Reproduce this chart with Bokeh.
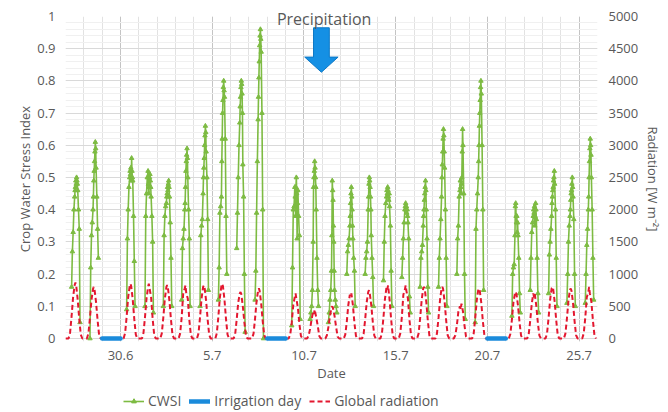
import math
from bokeh.plotting import figure
from bokeh.layouts import column
from bokeh.models import (Range1d, LinearAxis, FixedTicker, Legend, LegendItem)
from bokeh.embed import file_html
from bokeh.resources import INLINE

# ---------------- data ----------------
dates = ["27.6", "28.6", "29.6", "30.6", "1.7", "2.7", "3.7", "4.7", "5.7", "6.7",
         "7.7", "8.7", "9.7", "10.7", "11.7", "12.7", "13.7", "14.7", "15.7", "16.7",
         "17.7", "18.7", "19.7", "20.7", "21.7", "22.7", "23.7", "24.7", "25.7"]
ref_date = "30.6"            # day 0 of the numeric date axis
tick_dates = ["30.6", "5.7", "10.7", "15.7", "20.7", "25.7"]
irrigation_dates = ["29.6", "8.7", "20.7"]
precipitation_day = 10.95    # days after 30.6

cwsi_hours = [8, 9, 10, 11, 12, 12.5, 13, 13.5, 14, 14.5, 15, 15.5, 16, 17, 18, 19]
cwsi_2706 = [0.16, 0.27, 0.33, 0.40, 0.44, 0.46, 0.47, 0.49, 0.48, 0.50, 0.49, 0.48, 0.46, 0.40, 0.34, 0.05]
cwsi_2806 = [0.00, 0.22, 0.32, 0.36, 0.40, 0.44, 0.49, 0.52, 0.55, 0.58, 0.61, 0.59, 0.53, 0.44, 0.34, 0.25]
cwsi_3006 = [0.09, 0.31, 0.40, 0.47, 0.50, 0.52, 0.51, 0.53, 0.49, 0.56, 0.52, 0.50, 0.49, 0.38, 0.24, 0.10]
cwsi_0107 = [0.10, 0.38, 0.45, 0.50, 0.52, 0.48, 0.45, 0.47, 0.50, 0.51, 0.49, 0.47, 0.44, 0.38, 0.30, 0.08]
cwsi_0207 = [0.10, 0.32, 0.38, 0.41, 0.42, 0.44, 0.45, 0.47, 0.46, 0.48, 0.49, 0.47, 0.44, 0.36, 0.25, 0.10]
cwsi_0307 = [0.12, 0.28, 0.31, 0.34, 0.40, 0.42, 0.47, 0.52, 0.55, 0.57, 0.59, 0.56, 0.50, 0.40, 0.31, 0.10]
cwsi_0407 = [0.10, 0.32, 0.35, 0.37, 0.45, 0.50, 0.53, 0.56, 0.60, 0.63, 0.66, 0.64, 0.58, 0.50, 0.37, 0.15]
cwsi_0507 = [0.12, 0.22, 0.39, 0.41, 0.44, 0.55, 0.62, 0.70, 0.74, 0.78, 0.80, 0.77, 0.75, 0.62, 0.38, 0.20]
cwsi_0607 = [0.28, 0.39, 0.50, 0.60, 0.67, 0.72, 0.75, 0.78, 0.80, 0.79, 0.76, 0.70, 0.54, 0.44, 0.20, 0.02]
cwsi_0707 = [0.12, 0.21, 0.39, 0.55, 0.68, 0.75, 0.81, 0.86, 0.91, 0.94, 0.96, 0.93, 0.89, 0.70, 0.40, 0.00]
cwsi_0907 = [0.04, 0.22, 0.40, 0.41, 0.47, 0.44, 0.38, 0.47, 0.50, 0.45, 0.31, 0.42, 0.46, 0.38, 0.32, 0.06]
cwsi_1007 = [0.06, 0.08, 0.10, 0.15, 0.30, 0.47, 0.50, 0.52, 0.55, 0.53, 0.50, 0.47, 0.40, 0.25, 0.15, 0.10]
cwsi_1107 = [0.05, 0.08, 0.12, 0.15, 0.21, 0.32, 0.49, 0.46, 0.43, 0.35, 0.30, 0.21, 0.15, 0.12, 0.10, 0.08]
cwsi_1207 = [0.20, 0.27, 0.29, 0.31, 0.35, 0.38, 0.42, 0.45, 0.47, 0.44, 0.40, 0.35, 0.31, 0.25, 0.21, 0.10]
cwsi_1307 = [0.20, 0.25, 0.27, 0.30, 0.40, 0.44, 0.48, 0.50, 0.49, 0.47, 0.44, 0.40, 0.32, 0.25, 0.19, 0.10]
cwsi_1407 = [0.18, 0.30, 0.38, 0.42, 0.44, 0.46, 0.45, 0.47, 0.46, 0.44, 0.43, 0.45, 0.41, 0.35, 0.21, 0.10]
cwsi_1507 = [0.19, 0.25, 0.31, 0.36, 0.40, 0.41, 0.42, 0.40, 0.41, 0.39, 0.40, 0.38, 0.36, 0.31, 0.13, 0.08]
cwsi_1607 = [0.16, 0.25, 0.27, 0.29, 0.35, 0.38, 0.40, 0.43, 0.45, 0.47, 0.49, 0.46, 0.40, 0.31, 0.16, 0.08]
cwsi_1707 = [0.16, 0.25, 0.31, 0.37, 0.44, 0.50, 0.54, 0.58, 0.62, 0.65, 0.63, 0.58, 0.53, 0.40, 0.25, 0.10]
cwsi_1807 = [0.20, 0.31, 0.35, 0.44, 0.46, 0.49, 0.47, 0.45, 0.48, 0.50, 0.58, 0.65, 0.60, 0.45, 0.20, 0.06]
cwsi_1907 = [0.05, 0.34, 0.40, 0.45, 0.50, 0.55, 0.60, 0.66, 0.70, 0.74, 0.78, 0.80, 0.76, 0.60, 0.40, 0.15]
cwsi_2107 = [0.07, 0.20, 0.22, 0.23, 0.32, 0.41, 0.42, 0.38, 0.36, 0.38, 0.33, 0.36, 0.32, 0.25, 0.14, 0.08]
cwsi_2207 = [0.15, 0.25, 0.33, 0.36, 0.38, 0.40, 0.39, 0.41, 0.35, 0.38, 0.42, 0.40, 0.37, 0.25, 0.14, 0.08]
cwsi_2307 = [0.14, 0.26, 0.30, 0.34, 0.38, 0.42, 0.44, 0.46, 0.47, 0.49, 0.50, 0.52, 0.48, 0.40, 0.25, 0.10]
cwsi_2407 = [0.11, 0.20, 0.30, 0.35, 0.38, 0.40, 0.43, 0.45, 0.46, 0.48, 0.50, 0.47, 0.44, 0.37, 0.20, 0.10]
cwsi_2507 = [0.11, 0.20, 0.29, 0.34, 0.40, 0.44, 0.50, 0.55, 0.59, 0.62, 0.60, 0.57, 0.50, 0.40, 0.25, 0.12]

rad_hours = [0, 4, 6, 8, 10, 12, 13, 14, 16, 18, 20, 22]
rad_2706 = [0, 0, 90, 350, 650, 830, 870, 820, 600, 300, 60, 0]
rad_2806 = [0, 0, 80, 320, 600, 770, 800, 760, 560, 280, 50, 0]
rad_2906 = [0, 0, 0, 0, 0, 0, 0, 0, 0, 0, 0, 0]
rad_3006 = [0, 0, 85, 340, 640, 820, 850, 810, 600, 300, 60, 0]
rad_0107 = [0, 0, 85, 330, 620, 800, 850, 780, 640, 310, 60, 0]
rad_0207 = [0, 0, 80, 330, 620, 800, 830, 790, 580, 290, 55, 0]
rad_0307 = [0, 0, 80, 330, 700, 780, 825, 700, 620, 290, 55, 0]
rad_0407 = [0, 0, 80, 330, 620, 800, 825, 790, 580, 290, 55, 0]
rad_0507 = [0, 0, 85, 340, 640, 820, 850, 810, 600, 300, 60, 0]
rad_0607 = [0, 0, 70, 300, 560, 700, 720, 690, 500, 250, 50, 0]
rad_0707 = [0, 0, 75, 310, 580, 750, 780, 740, 540, 270, 50, 0]
rad_0807 = [0, 0, 0, 0, 0, 0, 0, 0, 0, 0, 0, 0]
rad_0907 = [0, 0, 60, 250, 520, 650, 700, 620, 480, 230, 40, 0]
rad_1007 = [0, 0, 40, 150, 300, 420, 380, 450, 330, 200, 40, 0]
rad_1107 = [0, 0, 50, 180, 350, 480, 500, 470, 350, 180, 30, 0]
rad_1207 = [0, 0, 60, 260, 520, 680, 650, 700, 520, 240, 40, 0]
rad_1307 = [0, 0, 70, 290, 560, 720, 750, 710, 520, 260, 45, 0]
rad_1407 = [0, 0, 80, 330, 620, 800, 760, 825, 600, 300, 55, 0]
rad_1507 = [0, 0, 80, 330, 680, 760, 825, 740, 620, 290, 55, 0]
rad_1607 = [0, 0, 80, 320, 600, 780, 800, 770, 570, 280, 50, 0]
rad_1707 = [0, 0, 80, 320, 600, 780, 800, 770, 570, 280, 50, 0]
rad_1807 = [0, 0, 50, 200, 420, 500, 450, 540, 420, 200, 30, 0]
rad_1907 = [0, 0, 75, 310, 590, 760, 775, 740, 550, 270, 50, 0]
rad_2007 = [0, 0, 0, 0, 0, 0, 0, 0, 0, 0, 0, 0]
rad_2107 = [0, 0, 70, 290, 560, 700, 725, 690, 510, 250, 45, 0]
rad_2207 = [0, 0, 65, 280, 540, 700, 640, 690, 500, 240, 45, 0]
rad_2307 = [0, 0, 80, 320, 600, 780, 800, 770, 570, 280, 50, 0]
rad_2407 = [0, 0, 75, 310, 590, 760, 775, 740, 550, 270, 50, 0]
rad_2507 = [0, 0, 80, 320, 640, 720, 800, 700, 570, 280, 50, 0]

cwsi_by_date = {
    "27.6": cwsi_2706, "28.6": cwsi_2806, "30.6": cwsi_3006, "1.7": cwsi_0107,
    "2.7": cwsi_0207, "3.7": cwsi_0307, "4.7": cwsi_0407, "5.7": cwsi_0507,
    "6.7": cwsi_0607, "7.7": cwsi_0707, "9.7": cwsi_0907, "10.7": cwsi_1007,
    "11.7": cwsi_1107, "12.7": cwsi_1207, "13.7": cwsi_1307, "14.7": cwsi_1407,
    "15.7": cwsi_1507, "16.7": cwsi_1607, "17.7": cwsi_1707, "18.7": cwsi_1807,
    "19.7": cwsi_1907, "21.7": cwsi_2107, "22.7": cwsi_2207, "23.7": cwsi_2307,
    "24.7": cwsi_2407, "25.7": cwsi_2507,
}
rad_by_date = {
    "27.6": rad_2706, "28.6": rad_2806, "29.6": rad_2906, "30.6": rad_3006,
    "1.7": rad_0107, "2.7": rad_0207, "3.7": rad_0307, "4.7": rad_0407,
    "5.7": rad_0507, "6.7": rad_0607, "7.7": rad_0707, "8.7": rad_0807,
    "9.7": rad_0907, "10.7": rad_1007, "11.7": rad_1107, "12.7": rad_1207,
    "13.7": rad_1307, "14.7": rad_1407, "15.7": rad_1507, "16.7": rad_1607,
    "17.7": rad_1707, "18.7": rad_1807, "19.7": rad_1907, "20.7": rad_2007,
    "21.7": rad_2107, "22.7": rad_2207, "23.7": rad_2307, "24.7": rad_2407,
    "25.7": rad_2507,
}

# ---------------- build series ----------------
day_of = {d: i - dates.index(ref_date) for i, d in enumerate(dates)}

cx, cy = [], []
for d in dates:
    if d in cwsi_by_date:
        for h, v in zip(cwsi_hours, cwsi_by_date[d]):
            cx.append(day_of[d] + h / 24.0)
            cy.append(v)
    cx.append(float("nan"))   # no measurement at night
    cy.append(float("nan"))

rx, ry = [], []
for d in dates:
    for h, v in zip(rad_hours, rad_by_date[d]):
        rx.append(day_of[d] + h / 24.0)
        ry.append(v)

# ---------------- styling ----------------
FONT = "Open Sans"
TXT = "#595959"
GREEN = "#7DBB42"
RED = "#E3172F"
BLUE = "#1A8BDB"

x0 = day_of[dates[0]]
x1 = day_of[dates[-1]] + 1
pad = 3.0 / 322.0            # small room below zero so the zero-level lines are not clipped

p = figure(frame_width=532, frame_height=325, output_backend="svg", toolbar_location=None,
           x_range=Range1d(x0, x1), y_range=Range1d(-pad, 1),
           min_border_left=65, min_border_right=71, min_border_top=16, min_border_bottom=44)
p.outline_line_color = None
p.background_fill_color = "white"
p.border_fill_color = "white"
p.extra_y_ranges = {"rad": Range1d(-pad * 5000, 5000)}

bax = p.xaxis[0]
lax = p.yaxis[0]

# x axis
bax.ticker = FixedTicker(ticks=[day_of[d] for d in tick_dates],
                         minor_ticks=list(range(x0, x1 + 1)))
bax.major_label_overrides = {day_of[d]: d for d in tick_dates}
bax.axis_label = "Date"

# left axis
yt = [0, 0.1, 0.2, 0.3, 0.4, 0.5, 0.6, 0.7, 0.8, 0.9, 1.0]
lax.ticker = FixedTicker(ticks=yt, minor_ticks=[round(i * 0.02, 2) for i in range(51)])
lax.major_label_overrides = {0: "0", 1: "1"}
lax.axis_label = "Crop Water Stress Index"

# right axis
rax = LinearAxis(y_range_name="rad", axis_label="Radiation [W m\u207b\u00b2]",
                 ticker=FixedTicker(ticks=list(range(0, 5001, 500))))
p.add_layout(rax, "right")

# "Precipitation" caption carried by an unlabeled top axis (not clipped by the frame)
label_x = precipitation_day + 0.15
tax = LinearAxis(ticker=FixedTicker(ticks=[label_x]),
                 major_label_overrides={label_x: "Precipitation"})
p.add_layout(tax, "above")

for ax in [bax, lax, rax, tax]:
    ax.axis_line_color = None
    ax.major_tick_line_color = None
    ax.minor_tick_line_color = None
    ax.major_tick_out = 0
    ax.major_tick_in = 0
    ax.minor_tick_out = 0
    ax.minor_tick_in = 0
    ax.major_label_text_font = FONT
    ax.major_label_text_font_size = "13px"
    ax.major_label_text_color = TXT
    ax.axis_label_text_font = FONT
    ax.axis_label_text_font_size = "13px"
    ax.axis_label_text_font_style = "normal"
    ax.axis_label_text_color = TXT
    ax.major_label_standoff = 10
    ax.axis_label_standoff = 6
rax.major_label_standoff = 11
rax.axis_label_standoff = 3
lax.axis_label_standoff = 0
bax.major_label_standoff = 9
bax.axis_label_standoff = 1
tax.major_label_text_font_size = "16px"
tax.major_label_standoff = -13

p.xgrid.grid_line_color = "#C4C4C4"
p.xgrid.minor_grid_line_color = "#E2E2E2"
p.ygrid.grid_line_color = "#D9D9D9"
p.ygrid.minor_grid_line_color = "#F0F0F0"

# ---------------- glyphs ----------------
line_style = dict(line_color=GREEN, line_width=1.6)
mark_style = dict(marker="triangle", size=4.5, fill_color=GREEN, line_color=GREEN)
rad_style = dict(line_color=RED, line_width=2, line_dash="5 3")
irr_style = dict(line_color=BLUE, line_width=4.5, line_cap="round")

p.line(cx, cy, **line_style)
p.scatter(cx, cy, **mark_style)
p.line(rx, ry, y_range_name="rad", **rad_style)
for d in irrigation_dates:
    p.line([day_of[d], day_of[d] + 1], [0, 0], **irr_style)

# precipitation arrow
shaft, head = 0.43, 0.91
y_top, y_head, y_tip = 0.965, 0.874, 0.827
xa = precipitation_day
p.patch([xa - shaft, xa + shaft, xa + shaft, xa + head, xa, xa - head, xa - shaft],
        [y_top, y_top, y_head, y_head, y_tip, y_head, y_head],
        fill_color="#1590E4", line_color="#0E78C6", line_width=1)

# ---------------- legend strip below the chart ----------------
leg = figure(width=668, height=26, output_backend="svg", toolbar_location=None,
             x_axis_type=None, y_axis_type=None, x_range=Range1d(0, 1), y_range=Range1d(0, 1),
             min_border=0)
leg.outline_line_color = None
leg.grid.visible = False
nan = [float("nan")]
g1 = leg.line(nan, nan, **line_style)
g2 = leg.scatter(nan, nan, **mark_style)
g3 = leg.line(nan, nan, **irr_style)
g4 = leg.line(nan, nan, **rad_style)
legend = Legend(items=[LegendItem(label="CWSI", renderers=[g1, g2]),
                       LegendItem(label="Irrigation day", renderers=[g3]),
                       LegendItem(label="Global radiation", renderers=[g4])],
                orientation="horizontal", location=(58, 1),
                border_line_color=None, background_fill_alpha=0,
                label_text_font=FONT, label_text_font_size="14px", label_text_color=TXT,
                glyph_width=21, glyph_height=12, label_height=14, label_standoff=4,
                spacing=8, padding=0, margin=0)
leg.add_layout(legend, "center")

layout = column(p, leg, spacing=0)
open("out.html", "w").write(file_html(layout, INLINE))
